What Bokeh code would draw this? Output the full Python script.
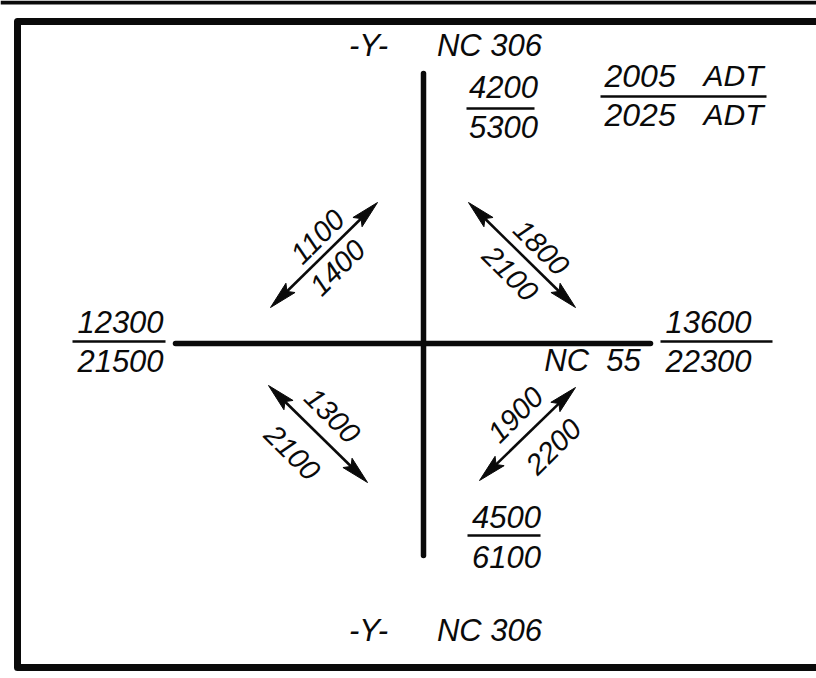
import math
from bokeh.plotting import figure
from bokeh.models import Range1d
from bokeh.core.properties import value
from bokeh.embed import file_html
from bokeh.resources import INLINE

# ---- data ----
legend_years = ["2005 ADT", "2025 ADT"]
route_tag = "-Y-"
route_ns = "NC 306"
route_ew = "NC 55"
north_adt = [4200, 5300]
south_adt = [4500, 6100]
west_adt = [12300, 21500]
east_adt = [13600, 22300]
turn_nw = [1100, 1400]
turn_ne = [1800, 2100]
turn_sw = [1300, 2100]
turn_se = [1900, 2200]

FONT = value("Liberation Sans")
INK = "#0a0a0a"

W, H = 816, 678
p = figure(width=W, height=H, x_range=Range1d(0, W), y_range=Range1d(H, 0),
           output_backend="svg", toolbar_location=None, min_border=0)
p.axis.visible = False
p.grid.visible = False
p.outline_line_color = None
p.background_fill_color = "white"
p.border_fill_color = "white"

# sheet edge and frame box
p.line(x=[0, 900], y=[2, 2], line_width=4, line_color=INK)
p.line(x=[900, 17, 17, 900], y=[21, 21, 667, 667], line_width=7, line_color=INK,
       line_join="round")

# roads
p.line(x=[423, 423], y=[73, 555], line_width=5.5, line_color=INK, line_cap="round")
p.line(x=[175, 650], y=[343, 343], line_width=5.5, line_color=INK, line_cap="round")


def txt(x, y, s, size=31, angle=0.0, align="center"):
    p.text(x=[x], y=[y], text=[s], angle=angle, text_font=FONT, text_font_style="italic",
           text_font_size=f"{size}px", text_align=align, text_baseline="middle",
           text_color=INK)


def fraction(cx, ytop, yline, ybot, x0, x1, vals):
    txt(cx, ytop, str(vals[0]))
    txt(cx, ybot, str(vals[1]))
    p.line(x=[x0, x1], y=[yline, yline], line_width=2.5, line_color=INK)


# route names
for yy in (45, 630):
    txt(368, yy, route_tag)
    txt(489, yy, route_ns)
txt(592, 360, route_ew.replace(" ", "\u00a0\u00a0"))

# legend fraction
for yy, lab in zip((75, 114), legend_years):
    a, b = lab.split(" ")
    txt(604, yy, a, size=32, align="left")
    txt(703, yy, b, size=30, align="left")
p.line(x=[600, 766], y=[96, 96], line_width=2.5, line_color=INK)

# approach volumes
fraction(503, 86, 108, 126, 466, 534, north_adt)
fraction(506, 516, 535, 556, 467, 540, south_adt)
fraction(120, 321, 341, 360, 72, 165, west_adt)
fraction(708, 321, 341, 360, 660, 772, east_adt)


def darrow(x0, y0, x1, y1):
    dx, dy = x1 - x0, y1 - y0
    L = math.hypot(dx, dy)
    ux, uy = dx / L, dy / L
    px, py = -uy, ux
    hl, hw, notch = 28, 6.5, 5
    xs, ys = [], []
    for (tx, ty, sx, sy) in ((x1, y1, ux, uy), (x0, y0, -ux, -uy)):
        bx, by = tx - sx * hl, ty - sy * hl
        ix, iy = tx - sx * (hl - notch), ty - sy * (hl - notch)
        xs.append([tx, bx + px * hw, ix, bx - px * hw])
        ys.append([ty, by + py * hw, iy, by - py * hw])
    p.patches(xs=xs, ys=ys, fill_color=INK, line_color=INK, line_width=1)
    p.line(x=[x0 + ux * 20, x1 - ux * 20], y=[y0 + uy * 20, y1 - uy * 20],
           line_width=2.6, line_color=INK)


q = math.pi / 4
# NW quadrant
darrow(270, 307, 377, 202)
txt(317, 236, str(turn_nw[0]), size=29, angle=q)
txt(337, 267, str(turn_nw[1]), size=29, angle=q)
# NE quadrant
darrow(468, 202, 575, 307)
txt(541, 247, str(turn_ne[0]), size=29, angle=-q)
txt(510, 273, str(turn_ne[1]), size=29, angle=-q)
# SW quadrant
darrow(268, 385, 367, 482)
txt(332, 415, str(turn_sw[0]), size=29, angle=-q)
txt(292, 452, str(turn_sw[1]), size=29, angle=-q)
# SE quadrant
darrow(479, 480, 575, 387)
txt(515, 414, str(turn_se[0]), size=29, angle=q)
txt(553, 446, str(turn_se[1]), size=29, angle=q)

open("out.html", "w").write(file_html(p, INLINE))
